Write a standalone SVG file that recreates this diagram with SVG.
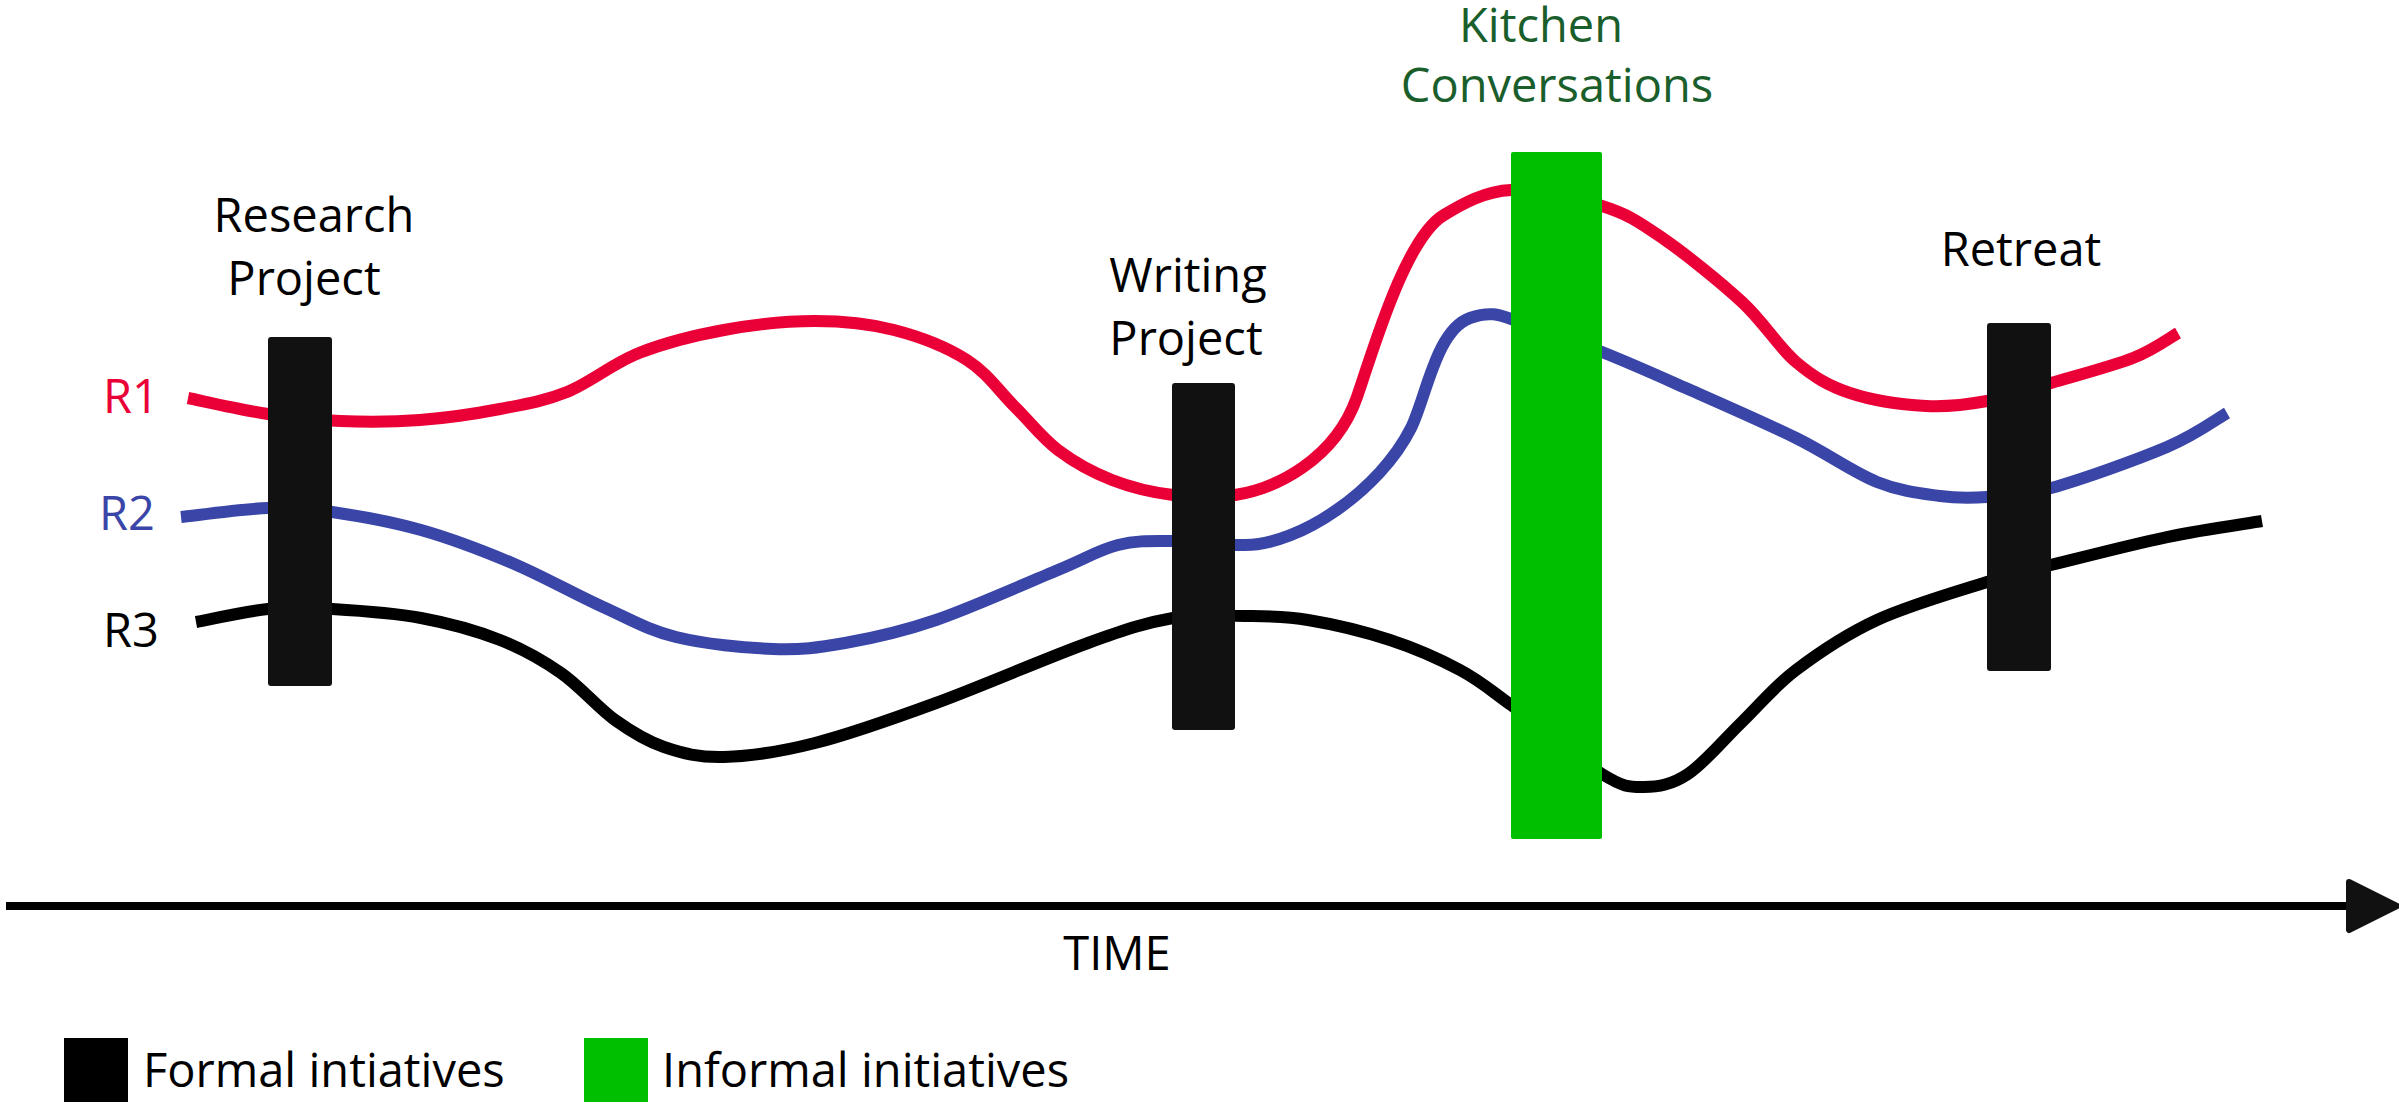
<svg xmlns="http://www.w3.org/2000/svg" width="2399" height="1105" viewBox="0 0 2399 1105">
<style>
text{font-family:"Open Sans","Liberation Sans",sans-serif;font-size:47px;fill:#000}
.mid{text-anchor:middle}
.bar{fill:#111}
.green{fill:#00be00}
.line{fill:none;stroke-width:12;stroke-linecap:butt;stroke-linejoin:round}
.r1{stroke:#ea0037}
.r2{stroke:#3a45a8}
.r3{stroke:#000}
.kt{fill:#1a5e2c}
</style>
<defs>
<marker id="arrow" viewBox="0 0 56 56" markerWidth="56" markerHeight="56" markerUnits="userSpaceOnUse" refX="4" refY="28" orient="auto">
<path d="M4,4 L52,28 L4,52 Z" fill="#111" stroke="#111" stroke-width="6" stroke-linejoin="round"/>
</marker>
</defs>
<rect width="2399" height="1105" fill="#fff"/>
<g id="connectors">
<path id="R1-line" class="line r1" d="M188,398 C201.3,400.7 242.7,410.2 268,414 C293.3,417.8 314.7,420 340,421 C365.3,422 393.3,422 420,420 C446.7,418 475.5,413.7 500,409 C524.5,404.3 543.8,401.3 567,392 C590.2,382.7 612.8,363.3 639,353 C665.2,342.7 694.7,335.3 724,330 C753.3,324.7 786.7,321 815,321 C843.3,321 868.7,323.5 894,330 C919.3,336.5 946.8,347.2 967,360 C987.2,372.8 999.8,392 1015,407 C1030.2,422 1041.8,437.8 1058,450 C1074.2,462.2 1092.8,472.5 1112,480 C1131.2,487.5 1152.5,492.5 1173,495 C1193.5,497.5 1217,497 1235,495 C1275,489 1335,460 1357,397 C1372.4,352.9 1405,238 1444,215 C1462,204 1485,191 1511,190 C1540,189 1577,198 1602,206 C1627,213.8 1637.7,221 1661,237 C1684.3,253 1719.5,281.2 1742,302 C1764.5,322.8 1778,346.8 1796,362 C1814,377.2 1828.3,385.7 1850,393 C1871.7,400.3 1903.2,404.7 1926,406 C1948.8,407.3 1966.2,404.8 1987,401 C2007.8,397.2 2026.7,390.2 2051,383 C2075.3,375.8 2111.8,366.3 2133,358 C2154.2,349.7 2170.5,337.2 2178,333"/>
<path id="R2-line" class="line r2" d="M181,517 C195.5,515.5 242.8,508.8 268,508 C293.2,507.2 306.5,508.3 332,512 C357.5,515.7 391,521.5 421,530 C451,538.5 481.7,550.2 512,563 C542.3,575.8 575.7,594.7 603,607 C630.3,619.3 647.7,630 676,637 C704.3,644 744.8,648 773,649 C801.2,650 817.8,647.8 845,643 C872.2,638.2 900.5,632.2 936,620 C971.5,607.8 1027.7,582.5 1058,570 C1088.3,557.5 1098.8,549.8 1118,545 C1137.2,540.2 1151.8,541 1173,541 C1194.2,541 1224.2,545.8 1245,545 C1300,545 1380,490 1411,428 C1426,398 1436,330 1470,318 C1490,311 1500,315 1511,319 C1540,328 1572,340 1602,352 C1631.5,363.7 1655.7,374.7 1688,389 C1720.3,403.3 1764.5,422.5 1796,438 C1827.5,453.5 1853,472.3 1877,482 C1901,491.7 1921.7,493.5 1940,496 C1958.3,498.5 1968.5,498.3 1987,497 C2005.5,495.7 2021,496.3 2051,488 C2081,479.7 2137.7,459.5 2167,447 C2196.3,434.5 2217,418.7 2227,413"/>
<path id="R3-line" class="line r3" d="M196,622 C208,619.8 245.3,611.2 268,609 C290.7,606.8 306.5,607.5 332,609 C357.5,610.5 393,612.8 421,618 C449,623.2 476.7,630.8 500,640 C523.3,649.2 541.8,659.7 561,673 C580.2,686.3 597.8,707.7 615,720 C632.2,732.3 645.8,740.8 664,747 C682.2,753.2 698.8,757.7 724,757 C749.2,756.3 779.7,752 815,743 C850.3,734 890.5,719.7 936,703 C981.5,686.3 1048.5,657.2 1088,643 C1127.5,628.8 1146.8,622.5 1173,618 C1199.2,613.5 1222.5,615.7 1245,616 C1267.5,616.3 1283.8,616 1308,620 C1332.2,624 1364.7,631.7 1390,640 C1415.3,648.3 1439.8,659.2 1460,670 C1480.2,680.8 1487.3,687.7 1511,705 C1534.7,722.3 1579.8,760.3 1602,774 C1624.2,787.7 1629.7,787 1644,787 C1658.3,787 1671.7,784.8 1688,774 C1704.3,763.2 1724,739.3 1742,722 C1760,704.7 1773.5,687 1796,670 C1818.5,653 1845.2,634.7 1877,620 C1908.8,605.3 1958,591.2 1987,582 C2016,572.8 2021,572.5 2051,565 C2081,557.5 2131.8,544.3 2167,537 C2202.2,529.7 2246.2,523.7 2262,521"/>
<line id="time-axis" x1="6" y1="906" x2="2349" y2="906" stroke="#000" stroke-width="8" marker-end="url(#arrow)"/>
</g>
<g id="series-labels">
<text x="103" y="413" style="fill:#ea0037">R1</text>
<text x="99" y="530" style="fill:#3a45a8">R2</text>
<text x="103" y="647">R3</text>
</g>
<g id="research-project">
<rect class="bar" x="268" y="337" width="64" height="349" rx="3"/>
<text class="mid" x="314" y="232">Research</text>
<text class="mid" x="304" y="295">Project</text>
</g>
<g id="writing-project">
<rect class="bar" x="1172" y="383" width="63" height="347" rx="3"/>
<text class="mid" x="1188" y="292">Writing</text>
<text class="mid" x="1186" y="355">Project</text>
</g>
<g id="kitchen-conversations">
<rect class="green" x="1511" y="152" width="91" height="687" rx="2"/>
<text class="mid kt" x="1541" y="42">Kitchen</text>
<text class="mid kt" x="1557" y="102">Conversations</text>
</g>
<g id="retreat">
<rect class="bar" x="1987" y="323" width="64" height="348" rx="3"/>
<text class="mid" x="2021" y="266">Retreat</text>
</g>
<g id="time-label">
<text class="mid" x="1117" y="970">TIME</text>
</g>
<g id="legend">
<rect x="64" y="1038" width="64" height="64" fill="#000"/>
<text x="143" y="1087">Formal intiatives</text>
<rect class="green" x="584" y="1038" width="64" height="64"/>
<text x="662" y="1087">Informal initiatives</text>
</g>
</svg>
